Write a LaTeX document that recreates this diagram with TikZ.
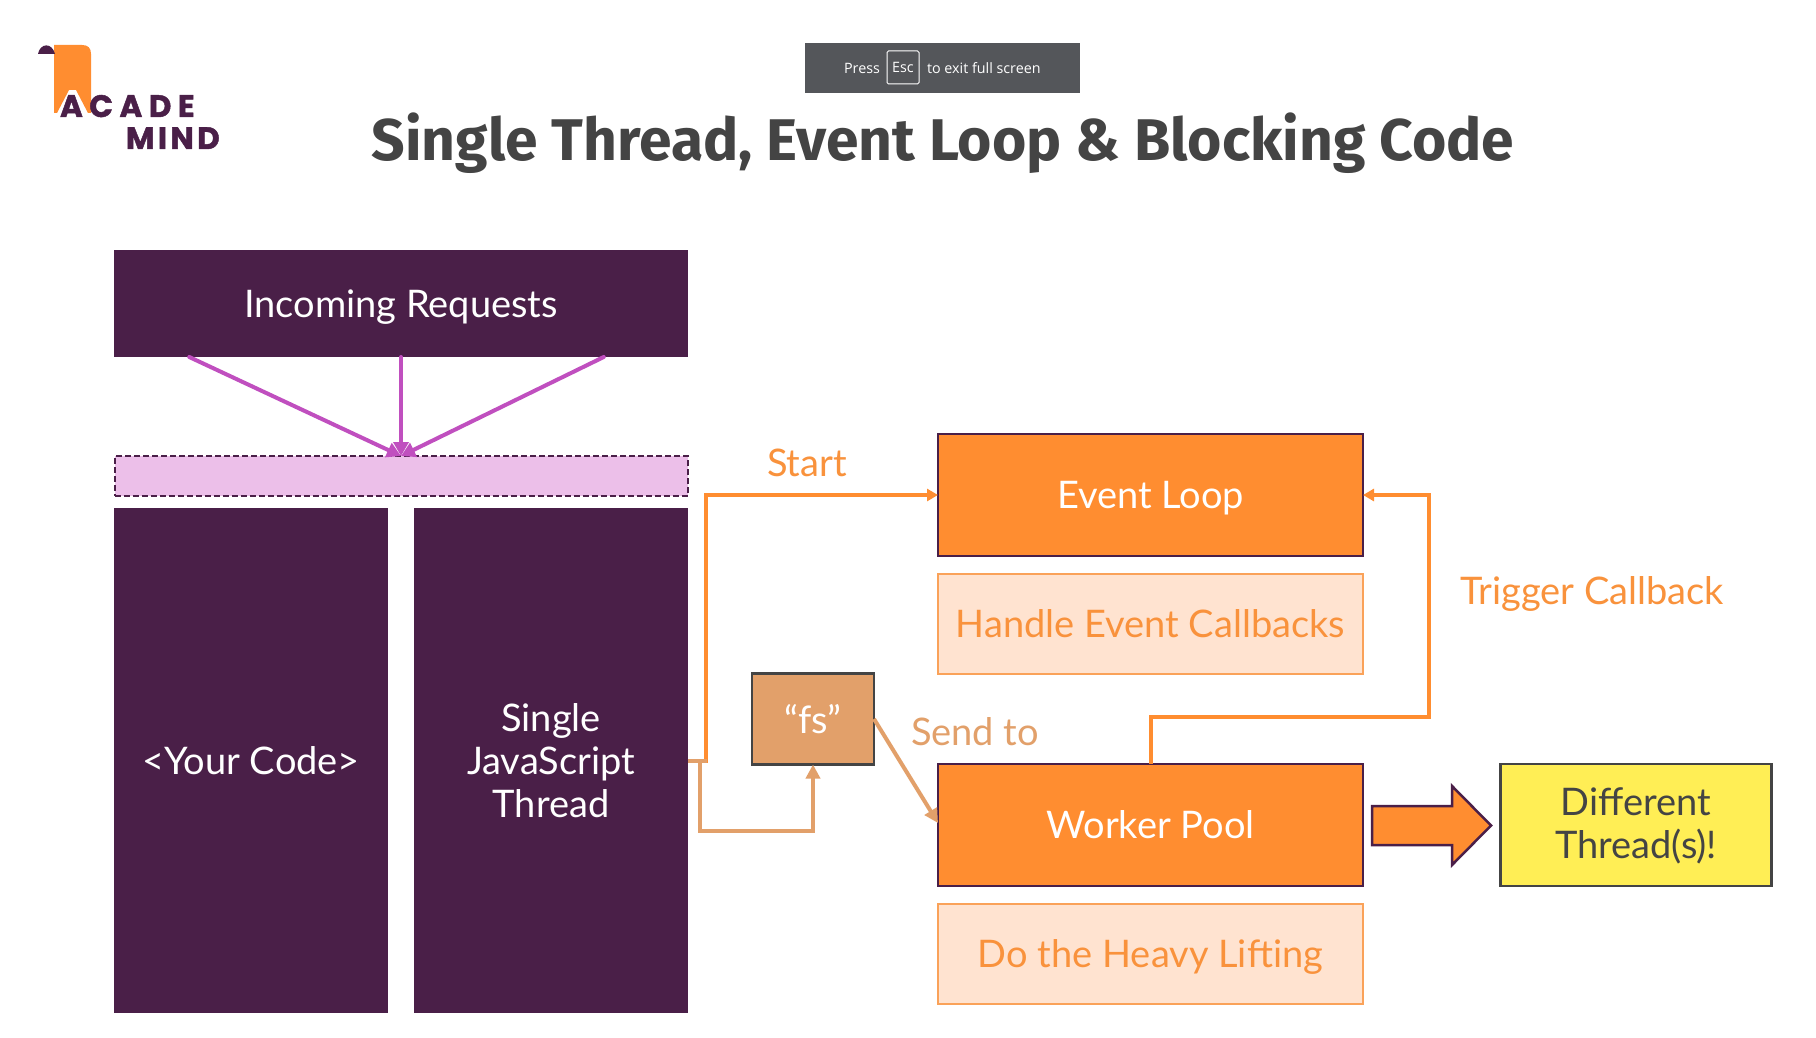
\documentclass[tikz,border=0pt]{standalone}
\usepackage{fontspec}
\setmainfont{Lato}
\newfontfamily\titlefont{Fira Sans}
\newfontfamily\logoa[LetterSpace=21,Kerning=Off,BoldFeatures={FakeBold=1.5,Kerning=Off}]{Poppins}
\newfontfamily\logob[LetterSpace=11,BoldFeatures={FakeBold=1.5}]{Poppins}
\newfontfamily\barfont{Open Sans}
\usetikzlibrary{arrows.meta,calc}
\definecolor{plum}{HTML}{4A1F48}
\definecolor{orng}{HTML}{FF8D30}
\definecolor{peach}{HTML}{FFE3D0}
\definecolor{tan}{HTML}{E2A06A}
\definecolor{lilac}{HTML}{ECBFE9}
\definecolor{magen}{HTML}{C04FBF}
\definecolor{yell}{HTML}{FFEE55}
\definecolor{lbl}{HTML}{F9923C}
\definecolor{ink}{HTML}{444444}
\definecolor{barc}{HTML}{54565A}
\newcommand{\fsz}[1]{\fontsize{#1}{#1}\selectfont}
\tikzset{
  base/.style={inner sep=0pt,outer sep=0pt,align=center,font=\fsz{38}\setlength{\baselineskip}{43pt}},
  oneline/.style={text height=27pt,text depth=0pt},
  plumbox/.style={base,fill=plum,text=white},
  loopbox/.style={base,oneline,fill=orng,draw=plum,line width=2.5pt,text=white},
  notebox/.style={base,oneline,fill=peach,draw=lbl!85!white,line width=2.5pt,text=lbl},
  lab/.style={base,oneline,text=lbl},
  wire/.style={line width=4pt,draw=orng,-{Triangle[length=11pt,width=12pt]}},
  tanline/.style={line width=4pt,draw=tan},
  tanwire/.style={tanline,-{Triangle[length=14pt,width=14pt]}},
  magwire/.style={line width=4pt,draw=magen,line cap=round,-{Triangle[length=14pt,width=15pt]}}
}
\begin{document}
\begin{tikzpicture}[x=1pt,y=-1pt]
\useasboundingbox (0,0) rectangle (1816,1038);
\fill[white] (0,0) rectangle (1816,1038);
% logo
\path[fill=orng] (54,45)--(82,45) .. controls (88,45) and (91,48) .. (91,54) --(91,113)--(88,113)--(76,90)--(69,90)--(57,113)--(54,113)--cycle;
\path[fill=plum] (38,54) .. controls (40,43) and (52,42) .. (55,54) -- cycle;
\node[base,text=plum,font=\logoa\bfseries\fsz{31},anchor=base west] (acade) at (60,117) {ACADE};
\node[base,text=plum,font=\logob\bfseries\fsz{31},anchor=base west] (mind) at (126,149) {MIND};
% fullscreen bar
\node[base,fill=barc,minimum width=275pt,minimum height=50pt] (bar) at (942.5,68) {};
\node[base,text=white,font=\barfont\fsz{14.3},anchor=center] (press) at (862,68) {Press};
\node[base,text=white,font=\barfont\fsz{14.3},draw=white,line width=1pt,rounded corners=1.5pt,minimum width=32pt,minimum height=33pt] (esc) at (903,67.5) {Esc};
\node[base,text=white,font=\barfont\fsz{14.3},anchor=west] (exit) at (927,68) {to exit full screen};
% title
\node[base,text=ink,font=\titlefont\bfseries\fsz{58.8}] (title) at (943,143.5) {Single Thread, Event Loop \& Blocking Code};
% left column
\node[plumbox,oneline,minimum width=573.5pt,minimum height=107pt] (req) at (401,303.5) {Incoming Requests};
\node[base,fill=lilac,draw=plum,dash pattern=on 6pt off 3pt,line width=2pt,minimum width=573pt,minimum height=40pt] (queue) at (401,476) {};
\node[plumbox,minimum width=273.5pt,minimum height=505pt] (code) at (251,760.5) {<Your Code>};
\node[plumbox,minimum width=273.5pt,minimum height=505pt] (thread) at (551,760.5) {Single\\JavaScript\\Thread};
% right column
\node[loopbox,minimum width=425pt,minimum height=122pt] (loop) at (1150.5,495) {Event Loop};
\node[notebox,minimum width=425pt,minimum height=100pt] (handle) at (1150.5,624) {Handle Event Callbacks};
\node[base,fill=tan,draw=ink,line width=2.5pt,text=white,minimum width=122pt,minimum height=91pt] (fs) at (813,719) {“fs”};
\node[loopbox,minimum width=425pt,minimum height=122pt] (pool) at (1150.5,825) {Worker Pool};
\node[notebox,minimum width=425pt,minimum height=100pt] (heavy) at (1150.5,954) {Do the Heavy Lifting};
\node[base,fill=yell,draw=ink,line width=2.5pt,text=ink,minimum width=271pt,minimum height=122pt] (diff) at (1636,825) {\raisebox{-2.5pt}[28pt][9pt]{Different}\\\raisebox{-2.5pt}[28pt][9pt]{Thread(s)!}};
% labels
\node[lab] (start) at (807,463) {Start};
\node[base,oneline,text=tan] (send) at (975,732) {Send to};
\node[lab] (trig) at (1592,591) {Trigger Callback};
% purple arrows
\coordinate (r1) at ($(req.south west)+(75,0)$);
\coordinate (r3) at ($(req.south east)+(-84,0)$);
\draw[magwire] (r1) -- (queue.north);
\draw[magwire] (req.south) -- (queue.north);
\draw[magwire] (r3) -- (queue.north);
% connectors
\coordinate (tstart) at (thread.east);
\draw[wire] ($(tstart)+(18.5,2)$) |- (loop.west);
\draw[tanline] (tstart) -- ++(19,0);
\draw[tanwire] ($(tstart)+(12.5,0)$) -- ++(0,70) -| (fs.south);
\draw[tanwire] (fs.east) -- ($(pool.west)+(0,-2)$);
\draw[wire] (pool.north) |- ++(278,-47) |- (loop.east);
% block arrow
\path[fill=orng,draw=plum,line width=2.5pt] (1372,806)--(1452,806)--(1452,786)--(1491,825.5)--(1452,865)--(1452,845)--(1372,845)--cycle;
\end{tikzpicture}
\end{document}
